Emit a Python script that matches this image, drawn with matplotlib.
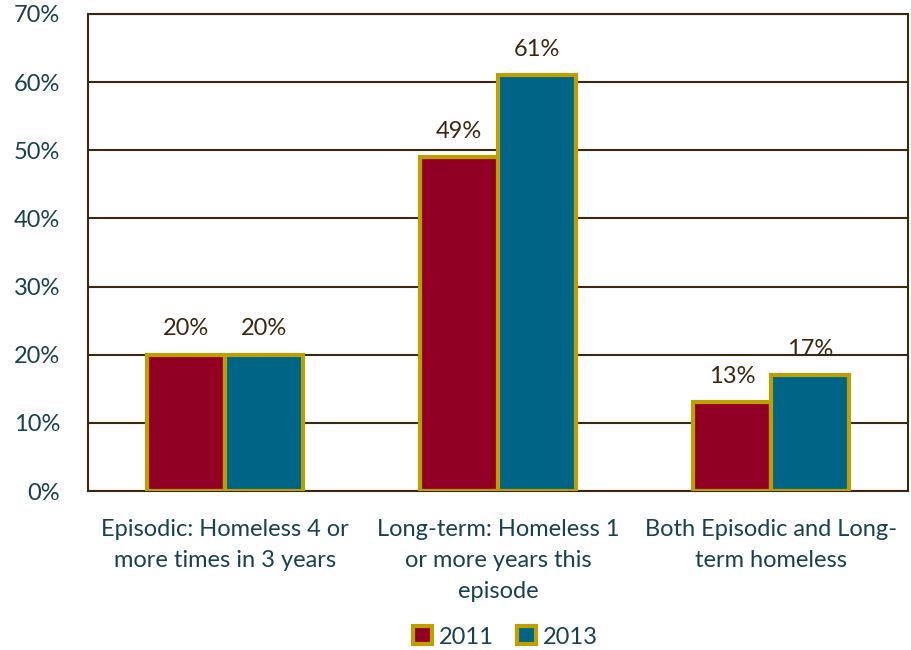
import numpy as np
import matplotlib.pyplot as plt
from matplotlib.patches import Patch

categories = ["Episodic: Homeless 4 or\nmore times in 3 years",
              "Long-term: Homeless 1\nor more years this\nepisode",
              "Both Episodic and Long-\nterm homeless"]
years = ["2011", "2013"]
vals_2011 = [20, 49, 13]
vals_2013 = [20, 61, 17]

red = "#910024"
blue = "#006487"
gold = "#BCA000"
brown = "#3B2710"
teal = "#17414F"

plt.rcParams['font.family'] = ['Lato', 'DejaVu Sans']
fs = 17

fig = plt.figure(figsize=(9.11, 6.5), dpi=100)
ax = fig.add_axes([0.0966, 0.2446, 0.9, 0.7339])

x = np.arange(len(categories))
w = 0.285
b1 = ax.bar(x - w / 2, vals_2011, w, color=red, edgecolor=gold, linewidth=3, zorder=3)
b2 = ax.bar(x + w / 2, vals_2013, w, color=blue, edgecolor=gold, linewidth=3, zorder=3)

for bars, vals in ((b1, vals_2011), (b2, vals_2013)):
    for r, v in zip(bars, vals):
        ax.text(r.get_x() + r.get_width() / 2, v + 3.8, f"{v}%", ha='center', va='center',
                fontsize=fs, color=brown)

ax.set_xlim(-0.5, 2.5)
ax.set_ylim(0, 70)
ax.set_yticks(range(0, 71, 10))
ax.set_yticklabels([f"{t}%" for t in range(0, 71, 10)])
ax.yaxis.grid(True, color=brown, linewidth=1.5, zorder=0)
ax.set_axisbelow(True)
ax.set_xticks(x)
ax.set_xticklabels(categories, linespacing=1.6)
ax.tick_params(axis='both', length=0, labelsize=fs, labelcolor=teal)
ax.tick_params(axis='x', pad=20)
ax.tick_params(axis='y', pad=20)
for s in ax.spines.values():
    s.set_color(brown)
    s.set_linewidth(1.5)

handles = [Patch(facecolor=red, edgecolor=gold, linewidth=3),
           Patch(facecolor=blue, edgecolor=gold, linewidth=3)]
fig.legend(handles, years, loc='center', bbox_to_anchor=(0.555, 0.02), ncol=2, frameon=False,
           fontsize=fs, labelcolor=teal, handlelength=0.8, handleheight=0.8,
           handletextpad=0.3, columnspacing=1.0)

fig.savefig("out.png", dpi=100)
